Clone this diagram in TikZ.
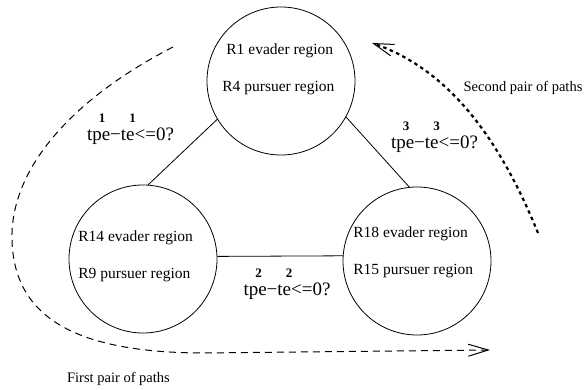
\documentclass[tikz,border=0pt]{standalone}
\usepackage{fontspec}
\setmainfont{Liberation Serif}
\usepackage{tikz}
\usetikzlibrary{calc, positioning, arrows.meta}

\begin{document}
\begin{tikzpicture}[x=1pt, y=1pt, line width=0.8pt,
    region/.style={draw, circle, minimum size=148pt, inner sep=0pt},
    rlabel/.style={anchor=west, inner sep=0pt, font=\fontsize{15.5}{18}\selectfont},
    cond/.style={inner sep=0pt, font=\fontsize{19}{22}\selectfont},
    idx/.style={inner sep=0pt, font=\fontsize{13}{14}\selectfont\bfseries},
    note/.style={inner sep=0pt, font=\fontsize{14.5}{17}\selectfont},
    barb/.style={-{Straight Barb[length=20pt, width=12pt, line width=1pt]}}]
    \useasboundingbox (0,0) rectangle (585,390);

    % regions
    \node[region] (R1) at (281,309) {};
    \node[region] (R14) at (143,131) {};
    \node[region] (R18) at (417,129) {};
    \node[rlabel] (R1e) at (226,339) {R1 evader region};
    \node[rlabel] (R4p) at (222,302) {R4 pursuer region};
    \node[rlabel] (R14e) at (78,152) {R14 evader region};
    \node[rlabel] (R9p) at (78,115) {R9 pursuer region};
    \node[rlabel] (R18e) at (353,156) {R18 evader region};
    \node[rlabel] (R15p) at (353,119) {R15 pursuer region};

    \draw (R1.211) -- (R14.86);
    \draw (R1.331) -- (R18.96);
    \draw (R14.2) -- (R18.176);

    % conditions on the edges
    \node[cond] (c1) at (130.5,254) {tpe−te<=0?};
    \node[cond] (c3) at (434.5,246) {tpe−te<=0?};
    \node[cond] (c2) at (287,99) {tpe−te<=0?};
    \foreach \c/\n in {c1/1, c3/3, c2/2} {
        \node[idx] (\c a) at ($(\c.west)+(15.5,18)$) {\n};
        \node[idx] (\c b) at ($(\c.west)+(46,18)$) {\n};
    }

    % pairs of paths
    \coordinate (p1s) at (173,343);  \coordinate (p1e) at (490,40);
    \draw[barb, line width=1pt, dash pattern=on 7pt off 5pt]
        (p1s) .. controls (70,290) and (10,220) .. (12,150)
        .. controls (14,70) and (80,38) .. (200,37) -- (p1e);
    \coordinate (p2s) at (538,157);  \coordinate (p2e) at (372,347);
    \draw[barb, line width=2.2pt, dash pattern=on 3.5pt off 3.5pt]
        (p2s) .. controls (500,250) and (450,320) .. (p2e);
    \node[note] (n1) at (118.5,11) {First pair of paths};
    \node[note] (n2) at (523,302) {Second pair of paths};
\end{tikzpicture}
\end{document}
